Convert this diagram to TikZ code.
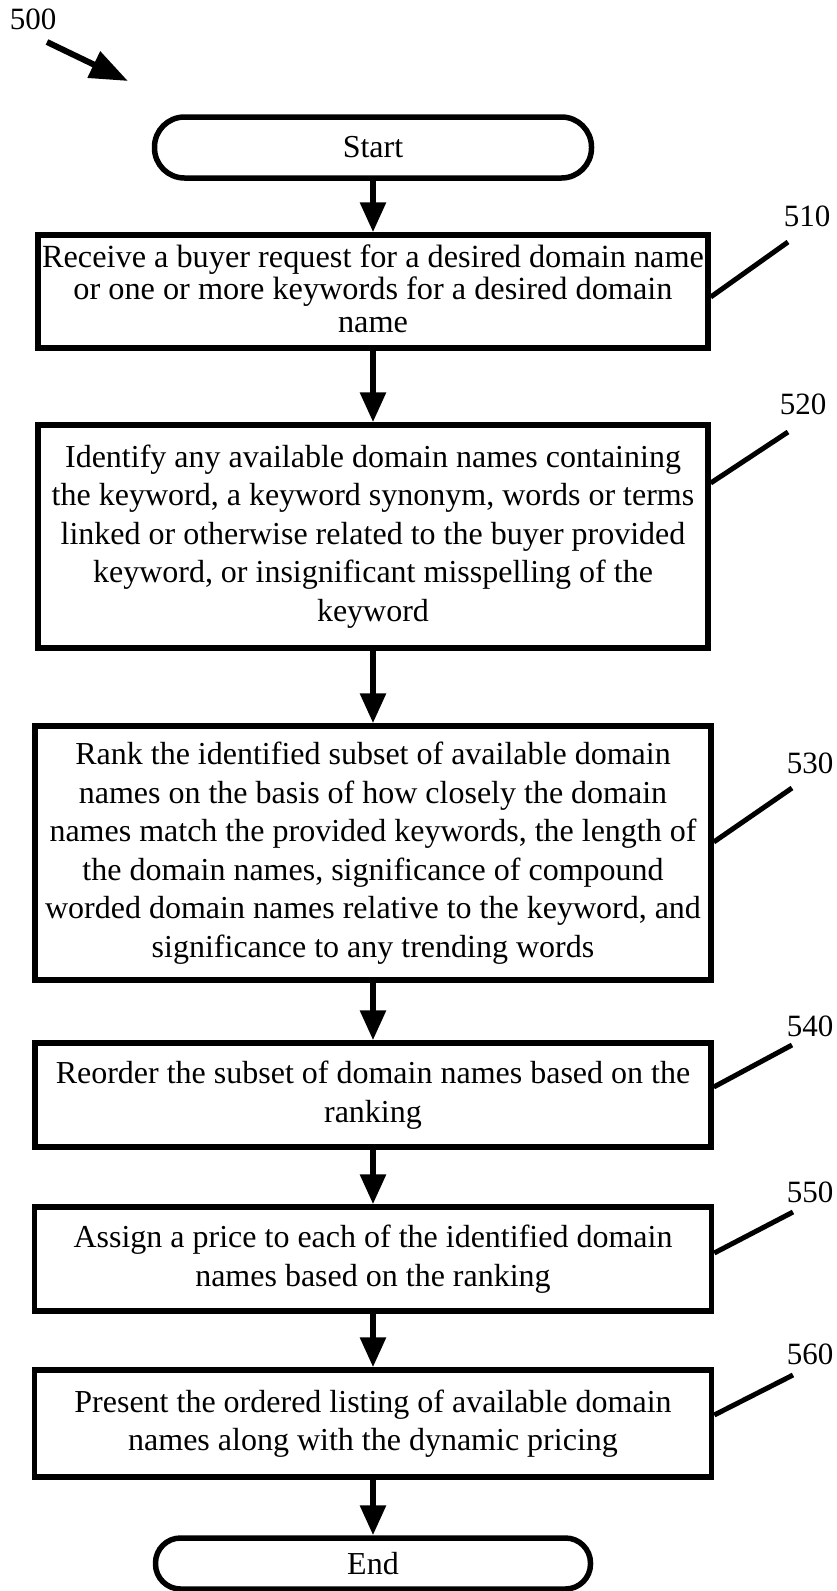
\documentclass[tikz,border=0pt]{standalone}
\usepackage{fontspec}
\setmainfont{Liberation Serif}
\usetikzlibrary{arrows.meta}
\begin{document}
\begin{tikzpicture}[x=1pt,y=-1pt,
  box/.style={draw,line width=5.5pt,inner sep=0pt,align=center,font=\fontsize{32}{38.5}\selectfont},
  term/.style={draw,line width=5.5pt,inner sep=0pt,font=\fontsize{32}{38.5}\selectfont},
  flow/.style={line width=6pt,-{Triangle[length=30pt,width=25pt]}},
  leader/.style={line width=5pt},
  reflab/.style={font=\fontsize{31}{31}\selectfont,inner sep=0pt}]
\useasboundingbox (0,0) rectangle (836,1591);

% figure number
\node[reflab] (n500) at (33,19) {500};
\coordinate (s500) at (47,42);
\coordinate (e500) at (128,81);
\draw[line width=6pt,-{Triangle[length=38pt,width=28pt]}] (s500) -- (e500);

% terminals and steps
\node[term,rounded corners=30pt,minimum width=437pt,minimum height=61pt] (start) at (373,147.5) {Start};
\node[box,minimum width=670pt,minimum height=113pt,font=\fontsize{32.3}{32.5}\selectfont] (b510) at (373,291.5)
  {Receive a buyer request for a desired domain name\\or one or more keywords for a desired domain\\name\\[-26pt]\mbox{}};
\node[box,minimum width=670pt,minimum height=223pt] (b520) at (373,536.5)
  {Identify any available domain names containing\\the keyword, a keyword synonym, words or terms\\linked or otherwise related to the buyer provided\\keyword, or insignificant misspelling of the\\keyword};
\node[box,minimum width=676pt,minimum height=254pt] (b530) at (373,853)
  {Rank the identified subset of available domain\\names on the basis of how closely the domain\\names match the provided keywords, the length of\\the domain names, significance of compound\\worded domain names relative to the keyword, and\\significance to any trending words};
\node[box,minimum width=676pt,minimum height=104pt] (b540) at (373,1095)
  {Reorder the subset of domain names based on the\\ranking};
\node[box,minimum width=677pt,minimum height=104pt] (b550) at (373,1259)
  {Assign a price to each of the identified domain\\names based on the ranking};
\node[box,minimum width=677pt,minimum height=107pt] (b560) at (373,1423.5)
  {Present the ordered listing of available domain\\names along with the dynamic pricing};
\node[term,rounded corners=25pt,minimum width=435pt,minimum height=51pt] (end) at (373,1563.5) {End};

% flow arrows
\draw[flow] (start) -- (b510);
\draw[flow] (b510) -- (b520);
\draw[flow] (b520) -- (b530);
\draw[flow] (b530) -- (b540);
\draw[flow] (b540) -- (b550);
\draw[flow] (b550) -- (b560);
\draw[flow] (b560) -- (end);

% reference labels and leaders
\node[reflab] (r510) at (807,216) {510};
\node[reflab] (r520) at (803,404) {520};
\node[reflab] (r530) at (810,763) {530};
\node[reflab] (r540) at (810,1026) {540};
\node[reflab] (r550) at (810,1192) {550};
\node[reflab] (r560) at (810,1354) {560};
\coordinate (t510) at (788,242);
\coordinate (t520) at (788,432);
\coordinate (t530) at (792,788);
\coordinate (t540) at (792,1045);
\coordinate (t550) at (793,1212);
\coordinate (t560) at (793,1375);
\draw[leader] (b510.east |- 0,297) -- (t510);
\draw[leader] (b520.east |- 0,483) -- (t520);
\draw[leader] (b530.east |- 0,842) -- (t530);
\draw[leader] (b540.east |- 0,1087) -- (t540);
\draw[leader] (b550.east |- 0,1253) -- (t550);
\draw[leader] (b560.east |- 0,1415) -- (t560);
\end{tikzpicture}
\end{document}
